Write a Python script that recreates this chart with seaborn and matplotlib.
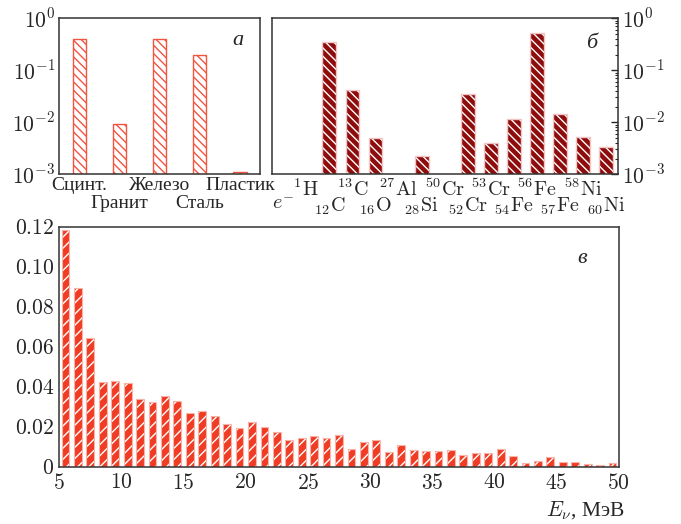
import numpy as np
import pandas as pd
import matplotlib
matplotlib.use("Agg")
import matplotlib.pyplot as plt
import seaborn as sns
from matplotlib.ticker import (FixedLocator, FuncFormatter, MultipleLocator,
                               LogLocator, NullFormatter)

# ---------------- data ----------------
materials = ["Сцинт.", "Гранит", "Железо", "Сталь", "Пластик"]
material_frac = [0.40, 0.0091, 0.40, 0.195, 0.0011]

isotopes = [r"$e^{-}$", r"${}^{1}\mathrm{H}$", r"${}_{12}\mathrm{C}$",
            r"${}^{13}\mathrm{C}$", r"${}_{16}\mathrm{O}$", r"${}^{27}\mathrm{Al}$",
            r"${}_{28}\mathrm{Si}$", r"${}^{50}\mathrm{Cr}$", r"${}_{52}\mathrm{Cr}$",
            r"${}^{53}\mathrm{Cr}$", r"${}_{54}\mathrm{Fe}$", r"${}^{56}\mathrm{Fe}$",
            r"${}_{57}\mathrm{Fe}$", r"${}^{58}\mathrm{Ni}$", r"${}_{60}\mathrm{Ni}$"]
isotope_frac = [0, 0, 0.35, 0.042, 0.0050, 0, 0.0022, 0, 0.035, 0.0040,
                0.0118, 0.51, 0.0142, 0.0052, 0.0034]

energy_mev = [5.5, 6.5, 7.5, 8.5, 9.5, 10.5, 11.5, 12.5, 13.5, 14.5,
              15.5, 16.5, 17.5, 18.5, 19.5, 20.5, 21.5, 22.5, 23.5, 24.5,
              25.5, 26.5, 27.5, 28.5, 29.5, 30.5, 31.5, 32.5, 33.5, 34.5,
              35.5, 36.5, 37.5, 38.5, 39.5, 40.5, 41.5, 42.5, 43.5, 44.5,
              45.5, 46.5, 47.5, 48.5, 49.5]
spectrum = [0.1183, 0.0893, 0.0643, 0.0427, 0.0428, 0.0418, 0.0338, 0.0323, 0.0355, 0.0330,
            0.0272, 0.0278, 0.0253, 0.0217, 0.0193, 0.0227, 0.0202, 0.0175, 0.0133, 0.0145,
            0.0154, 0.0143, 0.0160, 0.0089, 0.0123, 0.0134, 0.0074, 0.0108, 0.0084, 0.0079,
            0.0079, 0.0084, 0.0062, 0.0071, 0.0068, 0.0088, 0.0055, 0.0018, 0.0028, 0.0048,
            0.0027, 0.0024, 0.0014, 0.0012, 0.0018]

# ---------------- style ----------------
sns.set_style("white")
plt.rcParams["font.family"] = ["Liberation Serif", "DejaVu Serif"]
plt.rcParams["mathtext.fontset"] = "cm"
plt.rcParams["axes.edgecolor"] = "#333333"
plt.rcParams["axes.linewidth"] = 1.1
plt.rcParams["hatch.linewidth"] = 1.0
FS = 14      # text labels
FSN = 15.5   # numeric tick labels
FSI = 14.5   # isotope labels

fig = plt.figure(figsize=(6.81, 5.24), dpi=100)
ax_a = fig.add_axes([0.0871, 0.6674, 0.2947, 0.2977])
ax_b = fig.add_axes([0.3990, 0.6674, 0.5081, 0.2977])
ax_c = fig.add_axes([0.0871, 0.1088, 0.8214, 0.4580])

log_fmt = FuncFormatter(lambda v, p: r"$10^{%d}$" % int(round(np.log10(v))))


def log_axis(ax):
    ax.set_yscale("log", nonpositive="clip")
    ax.set_ylim(1e-3, 1)
    ax.yaxis.set_major_locator(LogLocator(base=10, numticks=10))
    ax.yaxis.set_major_formatter(log_fmt)
    ax.yaxis.set_minor_locator(LogLocator(base=10, subs=np.arange(2, 10), numticks=20))
    ax.yaxis.set_minor_formatter(NullFormatter())
    ax.set_xlabel("")
    ax.set_ylabel("")


# ---------------- panel a ----------------
df_a = pd.DataFrame({"material": materials, "frac": material_frac})
red_a = "#f2553f"
sns.barplot(data=df_a, x="material", y="frac", order=materials, ax=ax_a,
            width=0.33, color="white", edgecolor=red_a, hatch="\\\\\\\\",
            linewidth=1.0, errorbar=None, saturation=1)
log_axis(ax_a)
ax_a.set_xlim(-0.5, 4.5)
ax_a.set_xticks(range(len(materials)))
ax_a.set_xticklabels(materials, fontsize=FS)
ax_a.xaxis.set_minor_locator(FixedLocator(np.arange(0.5, 4.0, 1.0)))
ax_a.tick_params(axis="y", which="major", direction="in", length=5, width=1, labelsize=FSN, pad=3)
ax_a.tick_params(axis="y", which="minor", direction="in", length=2.5, width=0.8)
ax_a.tick_params(axis="x", which="major", direction="in", length=4, width=1)
ax_a.tick_params(axis="x", which="minor", direction="in", length=3, width=1)
for i, t in enumerate(ax_a.xaxis.get_major_ticks()):
    t.set_pad(2 if i % 2 == 0 else 15)
ax_a.text(0.89, 0.86, "а", transform=ax_a.transAxes, fontsize=16,
          style="italic", ha="center", va="center")

# ---------------- panel б ----------------
df_b = pd.DataFrame({"isotope": isotopes, "frac": isotope_frac})
df_b = df_b[df_b["frac"] > 0]
dark = "#8e0c0c"
pink = "#f2c4c4"
sns.barplot(data=df_b, x="isotope", y="frac", order=isotopes, ax=ax_b,
            width=0.6, color=dark, edgecolor="white", hatch="\\\\\\\\",
            linewidth=0, errorbar=None, saturation=1)
sns.barplot(data=df_b, x="isotope", y="frac", order=isotopes, ax=ax_b,
            width=0.6, facecolor="none", edgecolor=pink,
            linewidth=1.0, errorbar=None, saturation=1)
log_axis(ax_b)
ax_b.set_xlim(-0.5, 14.5)
ax_b.yaxis.tick_right()
ax_b.set_xticks(range(len(isotopes)))
ax_b.set_xticklabels(isotopes, fontsize=FSI)
ax_b.xaxis.set_minor_locator(FixedLocator(np.arange(0.5, 14.0, 1.0)))
ax_b.tick_params(axis="y", which="major", direction="in", length=5, width=1, labelsize=FSN, pad=3)
ax_b.tick_params(axis="y", which="minor", direction="in", length=2.5, width=0.8)
ax_b.tick_params(axis="x", which="both", direction="in", length=3.5, width=1)
for i, t in enumerate(ax_b.xaxis.get_major_ticks()):
    t.set_pad(15 if i % 2 == 0 else 4)
ax_b.text(0.925, 0.84, "б", transform=ax_b.transAxes, fontsize=16,
          style="italic", ha="center", va="center")

# ---------------- panel в ----------------
df_c = pd.DataFrame({"E": energy_mev, "w": spectrum})
red_c = "#f03c24"
pink_c = "#f8b4a8"
sns.barplot(data=df_c, x="E", y="w", native_scale=True, ax=ax_c,
            width=0.63, color=red_c, edgecolor="white", hatch="///",
            linewidth=0, errorbar=None, saturation=1)
sns.barplot(data=df_c, x="E", y="w", native_scale=True, ax=ax_c,
            width=0.63, facecolor="none", edgecolor=pink_c,
            linewidth=0.8, errorbar=None, saturation=1)
ax_c.set_xlim(5, 50)
ax_c.set_ylim(0, 0.12)
ax_c.set_ylabel("")
ax_c.xaxis.set_major_locator(MultipleLocator(5))
ax_c.xaxis.set_minor_locator(MultipleLocator(2.5))
ax_c.yaxis.set_major_locator(MultipleLocator(0.02))
ax_c.yaxis.set_minor_locator(MultipleLocator(0.01))
ax_c.xaxis.set_major_formatter(FuncFormatter(lambda v, p: r"$%d$" % int(round(v))))
ax_c.yaxis.set_major_formatter(FuncFormatter(
    lambda v, p: r"$0$" if abs(v) < 1e-9 else r"$%.2f$" % v))
ax_c.tick_params(axis="both", which="major", direction="in", length=5, width=1,
                 labelsize=FSN)
ax_c.tick_params(axis="both", which="minor", direction="in", length=3, width=1)
ax_c.tick_params(axis="y", which="major", pad=3.5)
ax_c.tick_params(axis="x", which="major", pad=5)
ax_c.set_xlabel(r"$E_{\nu}$, МэВ", fontsize=15.5)
ax_c.xaxis.set_label_coords(1.012, -0.135)
ax_c.xaxis.label.set_ha("right")
ax_c.xaxis.label.set_va("top")
ax_c.text(0.935, 0.87, "в", transform=ax_c.transAxes, fontsize=16,
          style="italic", ha="center", va="center")

for ax in (ax_a, ax_b, ax_c):
    for s in ax.spines.values():
        s.set_visible(True)
        s.set_color("#333333")
        s.set_linewidth(1.1)

fig.savefig("out.png", dpi=100)
